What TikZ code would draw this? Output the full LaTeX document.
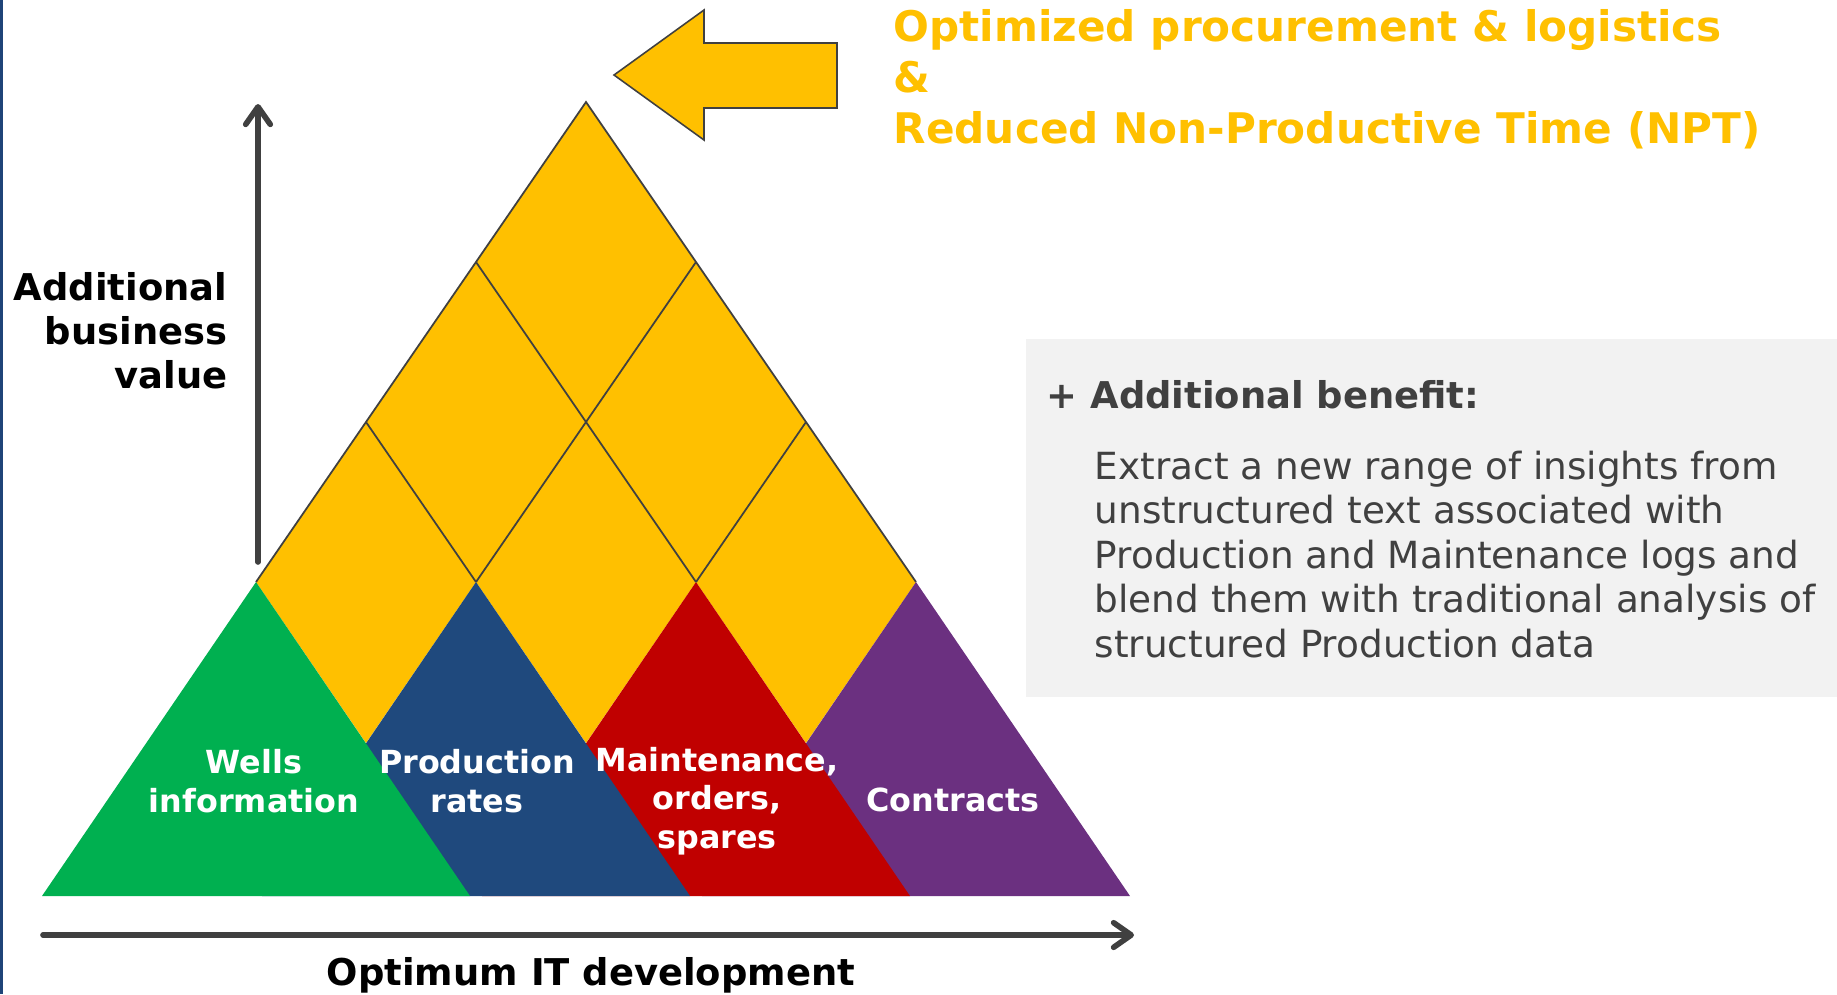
\documentclass[tikz,border=0pt]{standalone}
\usepackage{fontspec}
\setmainfont{DejaVu Sans}
\usetikzlibrary{arrows.meta}
\definecolor{gold}{RGB}{255,192,0}
\definecolor{wellgreen}{RGB}{0,176,80}
\definecolor{rateblue}{RGB}{31,73,125}
\definecolor{maintred}{RGB}{192,0,0}
\definecolor{contrpurple}{RGB}{107,48,128}
\definecolor{axisgray}{RGB}{64,64,64}
\definecolor{boxgray}{RGB}{242,242,242}
\definecolor{edgenavy}{RGB}{31,68,120}

\tikzset{
  latline/.style={draw=axisgray, line width=0.5pt},
  axisarrow/.style={draw=axisgray, line width=1.6pt, line cap=round,
    -{Straight Barb[length=5pt, width=7pt, line cap=round, line join=round]}},
  axislabel/.style={inner sep=0pt, font=\bfseries\fontsize{10.5}{12.5}\selectfont},
  trilabel/.style={inner sep=0pt, text=white, align=center,
    font=\bfseries\fontsize{9.05}{11}\selectfont},
  bodytext/.style={inner sep=0pt, text=axisgray, align=left,
    font=\fontsize{10.64}{12.66}\selectfont}
}

\begin{document}
\begin{tikzpicture}[x=0.1mm, y=-0.1mm]
        \useasboundingbox (0,0) rectangle (1837,994);
        \fill[edgenavy] (0,0) rectangle (3,994);
        \fill[boxgray] (1026,339) rectangle (1837,697);

        \coordinate (top) at (586,102);
        \coordinate (l1) at (476,262);
        \coordinate (r1) at (696,262);
        \coordinate (l2) at (366,422);
        \coordinate (r2) at (806,422);
        \coordinate (p1) at (256,582);
        \coordinate (p2) at (476,582);
        \coordinate (p3) at (696,582);
        \coordinate (p4) at (916,582);
        \coordinate (v1) at (366,743);
        \coordinate (v2) at (586,743);
        \coordinate (v3) at (806,743);

        \fill[gold] (top) -- (p4) -- (v3) -- (p3) -- (v2) -- (p2) -- (v1) -- (p1) -- cycle;
        \fill[contrpurple] (p4) -- (1130,896) -- (702,896) -- cycle;
        \fill[maintred] (p3) -- (910,896) -- (482,896) -- cycle;
        \fill[rateblue] (p2) -- (690,896) -- (262,896) -- cycle;
        \fill[wellgreen] (p1) -- (470,896) -- (42,896) -- cycle;

        \draw[latline] (p1) -- (top) -- (p4);
        \draw[latline] (l1) -- (p3);
        \draw[latline] (r1) -- (p2);
        \draw[latline] (l2) -- (p2);
        \draw[latline] (r2) -- (p3);

        \draw[fill=gold, draw=axisgray, line width=0.45pt] (614,75) -- (704,10) -- (704,43)
          -- (837,43) -- (837,108) -- (704,108) -- (704,140) -- cycle;

        \coordinate (ybottom) at (258,562);
        \coordinate (ytop) at (258,104);
        \coordinate (xleft) at (43,935);
        \coordinate (xright) at (1134,935);
        \draw[axisarrow] (ybottom) -- (ytop);
        \draw[axisarrow] (xleft) -- (xright);

        \node(wells) at (254,781) [trilabel] {Wells\\information};
        \node(rates) at (477,781) [trilabel] {Production\\rates};
        \node(maint) at (717,801) [trilabel] {Maintenance,\\orders,\\spares};
        \node(contr) at (953,800) [trilabel] {Contracts};

        \node(value) at (228,331) [axislabel, anchor=east, align=right] {Additional\\business\\value};
        \node(itdev) at (591,975) [axislabel] {Optimum IT development};

        \node(result) at (893,79) [inner sep=0pt, anchor=west, align=left, text=gold,
          font=\bfseries\fontsize{12}{14.5}\selectfont]
          {Optimized procurement \& logistics\\\&\\Reduced Non-Productive Time (NPT)};

        \node(benefit) at (1046,395) [inner sep=0pt, anchor=west, text=axisgray,
          font=\bfseries\fontsize{10.5}{12.5}\selectfont] {+ Additional benefit:};
        \node(insight) at (1094,450) [bodytext, anchor=north west]
          {Extract a new range of insights from\\unstructured text associated with\\Production and Maintenance logs and\\blend them with traditional analysis of\\structured Production data};
\end{tikzpicture}
\end{document}
